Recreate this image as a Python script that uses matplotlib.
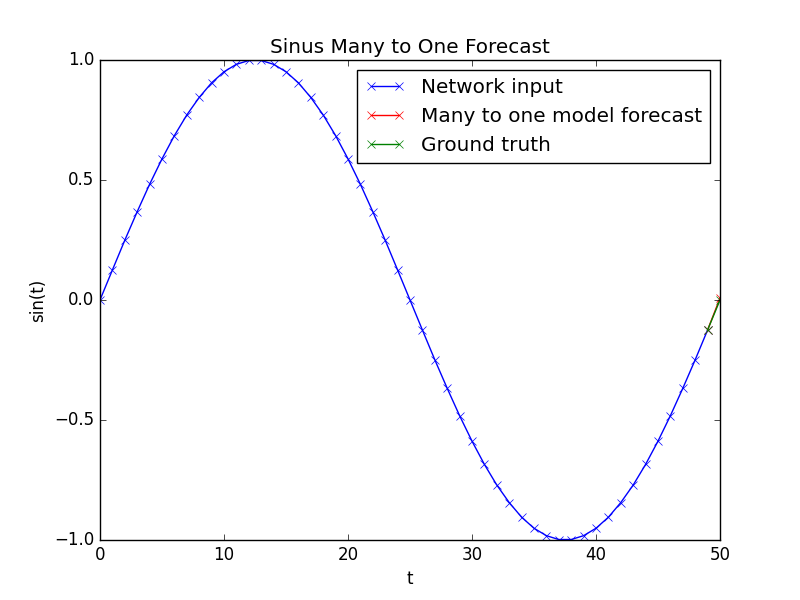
import matplotlib
matplotlib.use("Agg")
import matplotlib.pyplot as plt

plt.style.use("classic")

# network input, t = 0..49
t_input = list(range(50))
y_input = [0.000, 0.125, 0.249, 0.368, 0.482, 0.588, 0.685, 0.771, 0.844, 0.905,
           0.951, 0.982, 0.998, 0.998, 0.982, 0.951, 0.905, 0.844, 0.771, 0.685,
           0.588, 0.482, 0.368, 0.249, 0.125, 0.000, -0.125, -0.249, -0.368, -0.482,
           -0.588, -0.685, -0.771, -0.844, -0.905, -0.951, -0.982, -0.998, -0.998, -0.982,
           -0.951, -0.905, -0.844, -0.771, -0.685, -0.588, -0.482, -0.368, -0.249, -0.125]

# forecast / ground truth step
t_step = [49, 50]
y_forecast = [-0.125, 0.008]
y_truth = [-0.125, 0.000]

fig = plt.figure(figsize=(8, 6), dpi=100)
plt.plot(t_input, y_input, "bx-", label="Network input")
plt.plot(t_step, y_forecast, "rx-", label="Many to one model forecast")
plt.plot(t_step, y_truth, "gx-", label="Ground truth")
plt.title("Sinus Many to One Forecast")
plt.xlabel("t")
plt.ylabel("sin(t)")
plt.xlim(0, 50)
plt.ylim(-1, 1)
plt.legend(loc="upper right")
plt.savefig("out.png", dpi=100)
